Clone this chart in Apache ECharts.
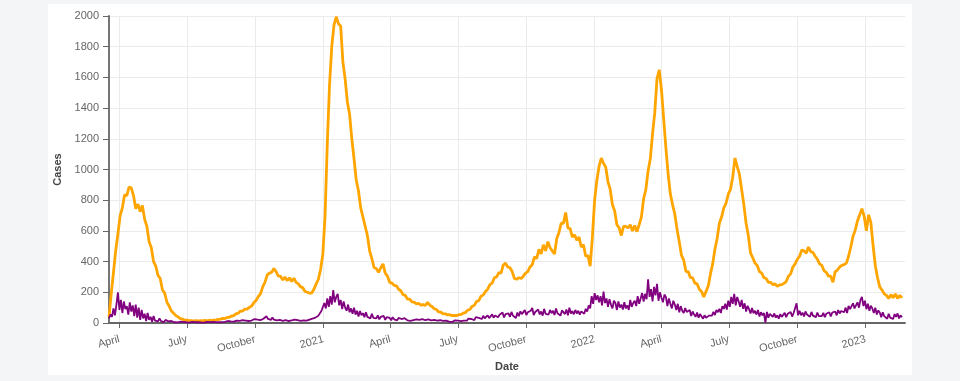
<!DOCTYPE html>
<html>
<head>
<meta charset="utf-8">
<script src="https://cdn.jsdelivr.net/npm/echarts@6/dist/echarts.min.js"></script>
<style>
html,body{margin:0;padding:0;width:960px;height:381px;background:#f4f5f7;overflow:hidden;}
#card{position:absolute;left:48px;top:4px;width:864px;height:371px;background:#ffffff;}
#chart{position:absolute;left:0;top:0;width:960px;height:381px;}
</style>
</head>
<body>
<div id="card"></div>
<div id="chart"></div>
<script>
// Series start on 2020-03-18; cases sampled every 3 days, second series every 2 days
const startDate = [2020, 2, 18];
const casesStepDays = 3;
const secondStepDays = 2;

const casesSeries = [
  40,190,330,470,580,700,750,835,830,885,
  880,830,745,775,725,765,675,630,530,490,
  400,370,310,290,215,195,135,110,78,64,
  48,40,28,25,19,18,15,16,13,15,
  13,16,14,17,14,18,15,19,19,23,
  24,30,29,36,37,45,48,60,64,78,
  78,90,90,102,110,132,146,172,190,235,
  265,312,325,330,355,335,305,305,280,300,
  275,295,270,292,265,255,235,230,205,200,
  195,195,220,255,285,350,450,700,1170,1550,
  1800,1940,1995,1950,1935,1700,1590,1440,1360,1200,
  1070,930,860,750,690,630,570,470,420,360,
  355,330,360,385,325,305,265,260,245,242,
  220,210,185,180,155,155,138,136,124,128,
  116,120,114,135,116,108,93,88,72,70,
  60,60,53,54,48,50,48,54,54,64,
  68,83,88,108,115,140,146,175,182,205,
  220,250,260,295,300,328,325,378,390,365,
  360,335,290,285,295,290,305,325,335,365,
  380,430,420,480,450,510,470,530,490,470,
  450,550,590,650,650,720,620,615,560,575,
  540,560,495,510,435,440,370,560,800,930,
  1020,1075,1040,1015,920,870,770,730,640,620,
  570,630,630,620,640,600,635,595,640,690,
  810,870,990,1070,1230,1370,1590,1650,1520,1330,
  1140,970,840,770,710,610,530,440,410,335,
  335,295,295,260,255,220,205,170,205,240,
  320,385,480,550,650,690,750,780,840,870,
  950,1075,1020,970,870,770,650,570,455,425,
  390,375,335,325,295,290,265,265,250,255,
  240,248,250,258,270,305,320,365,385,415,
  435,475,470,455,495,465,460,435,415,385,
  375,340,330,305,305,265,335,345,365,375,
  380,390,435,495,565,605,665,705,745,695,
  600,705,655,505,375,295,235,215,190,180,
  160,185,165,190,160,180,165
];

const secondSeries = [
  30,55,40,95,50,120,200,85,150,65,140,90,110,55,135,
  75,115,45,120,35,100,20,85,30,60,12,65,20,40,8,
  45,15,28,10,30,12,18,6,20,9,11,4,13,7,5,
  9,4,6,8,3,7,2,5,6,3,4,7,2,5,4,
  6,3,4,7,3,5,8,4,5,3,7,5,6,9,5,
  8,6,11,7,9,13,7,10,15,9,12,16,10,14,11,
  18,12,16,20,13,22,16,19,26,15,22,27,19,24,28,
  24,44,27,33,20,36,22,26,17,30,20,24,14,27,18,
  21,13,24,17,15,22,12,19,24,14,20,17,25,15,19,
  22,17,28,21,35,26,48,40,78,65,130,95,160,105,175,
  120,215,135,170,190,115,150,90,140,100,80,120,70,95,60,
  100,55,80,42,78,50,64,38,70,40,52,30,60,34,46,
  30,50,24,40,32,46,20,38,27,33,18,38,24,28,17,
  33,20,26,15,31,22,17,29,14,25,19,12,24,16,20,
  12,25,15,18,10,23,14,17,9,20,13,15,8,18,11,
  14,8,16,11,9,14,7,13,17,10,15,19,12,21,16,
  24,15,29,20,26,34,19,38,28,33,42,26,47,31,38,
  50,32,44,56,35,49,60,38,54,45,68,36,58,47,62,
  40,72,48,55,33,68,44,76,58,49,84,52,70,60,80,
  98,52,72,64,88,56,75,48,92,60,70,55,85,64,80,
  52,95,63,76,48,82,70,58,88,50,100,62,78,57,85,
  62,80,55,76,68,60,92,74,115,95,175,125,195,150,180,
  135,175,115,205,130,160,105,155,120,95,145,130,85,140,100,
  120,88,135,95,115,85,150,105,130,145,110,175,125,160,195,
  140,190,155,285,170,220,140,235,180,255,145,200,165,135,185,
  170,110,160,125,95,145,120,85,125,70,110,80,65,98,72,
  60,85,45,75,55,40,68,35,58,47,28,50,34,42,48,
  55,48,72,52,85,70,92,65,110,92,125,88,145,105,170,
  125,190,115,170,140,105,150,92,128,75,112,90,62,98,64,
  80,55,85,42,70,50,65,3,72,34,60,48,40,62,35,
  50,28,58,40,52,66,38,60,48,72,42,65,55,128,50,
  80,50,68,42,75,55,66,40,72,48,60,38,68,45,58,
  45,66,38,60,52,70,42,68,58,75,50,84,62,78,88,
  70,100,65,112,90,80,128,95,115,135,100,150,170,110,145,
  90,125,80,112,95,65,100,55,82,68,38,70,45,52,28,
  60,35,48,26,58,40,62,30,50,38
];

const tickDates = [
  [2020,3,1],[2020,6,1],[2020,9,1],[2021,0,1],[2021,3,1],[2021,6,1],
  [2021,9,1],[2022,0,1],[2022,3,1],[2022,6,1],[2022,9,1],[2023,0,1]
];
const tickLabels = ['April','July','October','2021','April','July','October','2022','April','July','October','2023'];

function dayTs(d){ return new Date(startDate[0], startDate[1], startDate[2] + d).getTime(); }
const casesData = casesSeries.map((v,i)=>[dayTs(i*casesStepDays), v]);
const secondData = secondSeries.map((v,i)=>[dayTs(i*secondStepDays), v]);
const tickTs = tickDates.map(d=>new Date(d[0],d[1],d[2]).getTime());
const labelMap = {};
tickTs.forEach((t,i)=>{ labelMap[t] = tickLabels[i]; });
const xMin = dayTs(0);
const xMax = dayTs(1072);

const FONT = 'Liberation Sans, Arial, sans-serif';
const chart = echarts.init(document.getElementById('chart'), null, {renderer:'canvas'});
chart.setOption({
  backgroundColor: 'transparent',
  animation: false,
  grid: {left:109, right:55, top:16, bottom:58, containLabel:false},
  xAxis: {
    type:'value', min:xMin, max:xMax, scale:true,
    name:'Date', nameLocation:'middle', nameGap:38,
    nameTextStyle:{color:'#444', fontWeight:'bold', fontSize:11, fontFamily:FONT},
    axisLine:{show:true, lineStyle:{color:'#666', width:1.8}},
    axisTick:{show:true, length:5, lineStyle:{color:'#666'}, customValues: tickTs},
    axisLabel:{customValues: tickTs, rotate:15, color:'#666', fontSize:11, margin:16, fontFamily:FONT,
      formatter: function(v){ return labelMap[v] || ''; }},
    splitLine:{show:true, lineStyle:{color:'#ebebeb', width:1}}
  },
  yAxis: {
    type:'value', min:0, max:2000, interval:200,
    name:'Cases', nameLocation:'middle', nameGap:42, nameRotate:90,
    nameTextStyle:{color:'#444', fontWeight:'bold', fontSize:11, fontFamily:FONT},
    axisLine:{show:true, lineStyle:{color:'#666', width:1.8}},
    axisTick:{show:true, length:6, lineStyle:{color:'#666'}},
    axisLabel:{color:'#666', fontSize:11, margin:10, fontFamily:FONT,
      formatter: function(v){ return String(v); }},
    splitLine:{show:true, lineStyle:{color:'#ebebeb', width:1}}
  },
  series: [
    {type:'line', name:'Cases', data:casesData, showSymbol:false, symbol:'none',
     lineStyle:{color:'#FFA500', width:2.8}, z:2},
    {type:'line', name:'Second', data:secondData, showSymbol:false, symbol:'none',
     lineStyle:{color:'#800080', width:1.8}, z:3}
  ]
});
</script>
</body>
</html>
